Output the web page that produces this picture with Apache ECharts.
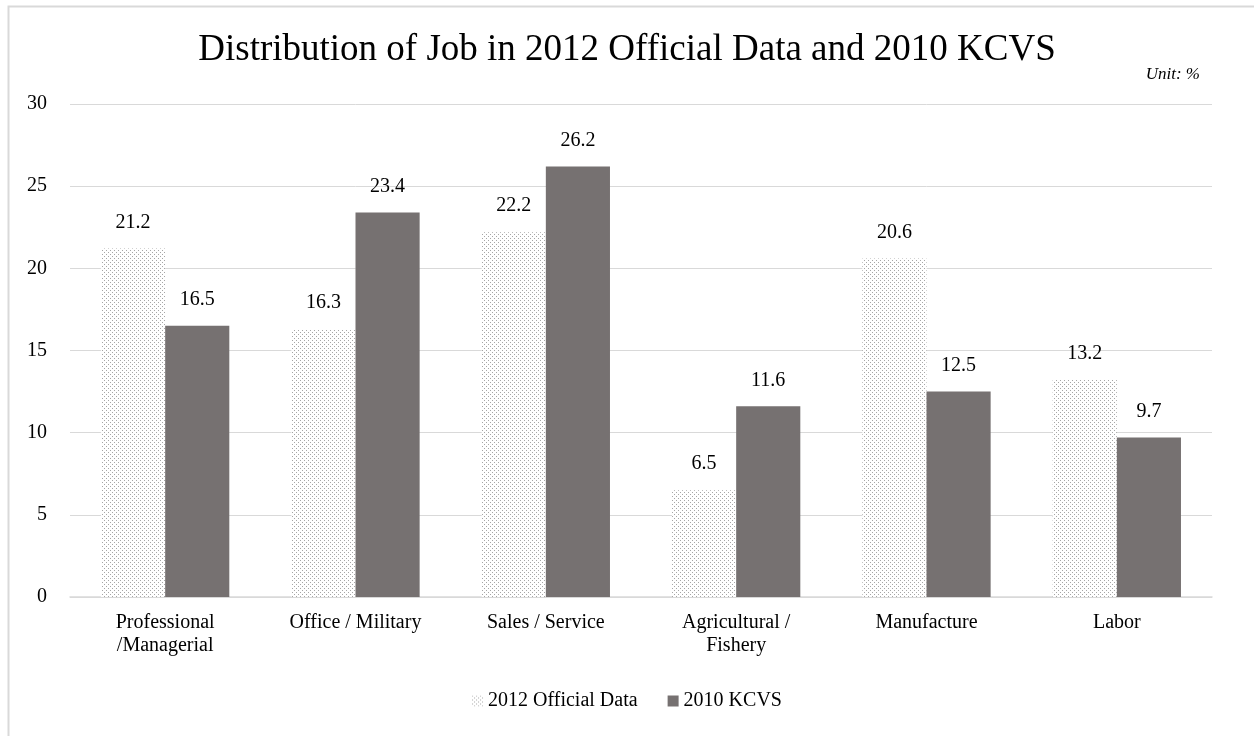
<!DOCTYPE html>
<html>
<head>
<meta charset="utf-8">
<script src="https://cdn.jsdelivr.net/npm/echarts@6/dist/echarts.min.js"></script>
<style>
  html, body { margin: 0; padding: 0; background: #fff; }
  #main { width: 1254px; height: 736px; }
</style>
</head>
<body>
<div id="main"></div>
<script>
// categories and values
var jobs = ['Professional\n/Managerial', 'Office / Military', 'Sales / Service', 'Agricultural /\nFishery', 'Manufacture', 'Labor'];
var official2012 = [21.2, 16.3, 22.2, 6.5, 20.6, 13.2];
var kcvs2010 = [16.5, 23.4, 26.2, 11.6, 12.5, 9.7];
var yTicks = [0, 5, 10, 15, 20, 25, 30];

var serif = '"Liberation Serif", "DejaVu Serif", serif';

// dotted fill for the 2012 series
function dots() {
  var c = document.createElement('canvas');
  c.width = 4; c.height = 4;
  var g = c.getContext('2d');
  g.fillStyle = '#ffffff';
  g.fillRect(0, 0, 4, 4);
  g.fillStyle = '#a6a6a6';
  g.fillRect(0, 0, 1, 1);
  g.fillRect(2, 2, 1, 1);
  return c;
}

var myChart = echarts.init(document.getElementById('main'));

var valueLabel = {
  show: true,
  position: 'top',
  distance: 16,
  color: '#000',
  fontSize: 20,
  formatter: function (p) { return p.value.toFixed(1); }
};

var option = {
  backgroundColor: '#fff',
  animation: false,
  textStyle: { fontFamily: serif },
  title: {
    text: 'Distribution of Job in 2012 Official Data and 2010 KCVS',
    left: 'center',
    top: 27,
    textStyle: { fontFamily: serif, fontSize: 37, fontWeight: 'normal', color: '#000' }
  },
  graphic: [
    {
      type: 'rect',
      shape: { x: 8.5, y: 6.5, width: 1300, height: 800 },
      style: { fill: 'none', stroke: '#d9d9d9', lineWidth: 2 },
      silent: true
    },
    {
      type: 'text',
      right: 54,
      top: 66,
      style: { text: 'Unit: %', font: 'italic 17px ' + serif, fill: '#000' }
    }
  ],
  legend: {
    bottom: 20,
    left: 'center',
    icon: 'rect',
    itemWidth: 11,
    itemHeight: 11,
    itemGap: 30,
    textStyle: { fontFamily: serif, fontSize: 20, color: '#000' },
    data: ['2012 Official Data', '2010 KCVS']
  },
  grid: { left: 70, right: 42, top: 104, bottom: 139 },
  xAxis: {
    type: 'category',
    data: jobs,
    axisTick: { show: false },
    axisLine: { lineStyle: { color: '#d9d9d9', width: 1.5 } },
    axisLabel: { color: '#000', fontSize: 20, lineHeight: 23, margin: 14, interval: 0 }
  },
  yAxis: {
    type: 'value',
    min: yTicks[0],
    max: yTicks[yTicks.length - 1],
    interval: 5,
    axisLine: { show: false },
    axisTick: { show: false },
    axisLabel: { color: '#000', fontSize: 20, margin: 23 },
    splitLine: { lineStyle: { color: '#d9d9d9' } }
  },
  series: [
    {
      name: '2012 Official Data',
      type: 'bar',
      data: official2012,
      barGap: '0%',
      barCategoryGap: '32.6%',
      itemStyle: { color: { image: dots(), repeat: 'repeat' } },
      label: valueLabel
    },
    {
      name: '2010 KCVS',
      type: 'bar',
      data: kcvs2010,
      itemStyle: { color: '#767171' },
      label: valueLabel
    }
  ]
};

myChart.setOption(option);
window.onresize = myChart.resize;
</script>
</body>
</html>
